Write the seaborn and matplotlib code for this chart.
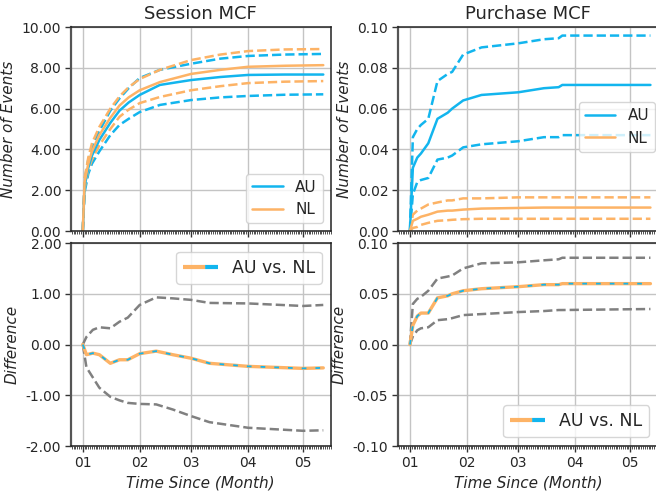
import numpy as np
import pandas as pd
import matplotlib
matplotlib.use("Agg")
import matplotlib.pyplot as plt
import matplotlib.dates as mdates
from matplotlib.lines import Line2D
import seaborn as sns

# ---------------- data ----------------
start_date = "2019-01-01"

# Session MCF
session_days = [0, 1, 3, 5, 9, 15, 20, 25, 31, 42, 59, 75, 90, 110, 131]
session_au_mean = [0, 2.2, 3.1, 3.7, 4.46, 5.3, 5.9, 6.3, 6.67, 7.16, 7.4, 7.55, 7.65, 7.67, 7.67]
session_au_upper = [0, 2.5, 3.5, 4.1, 4.9, 5.9, 6.5, 7.0, 7.5, 7.9, 8.2, 8.45, 8.58, 8.65, 8.68]
session_au_lower = [0, 1.9, 2.8, 3.3, 3.9, 4.7, 5.2, 5.5, 5.83, 6.18, 6.42, 6.55, 6.62, 6.68, 6.7]
session_nl_mean = [0, 2.4, 3.3, 3.9, 4.7, 5.55, 6.15, 6.55, 6.9, 7.3, 7.7, 7.9, 8.05, 8.1, 8.13]
session_nl_upper = [0, 2.6, 3.6, 4.3, 5.1, 6.0, 6.6, 7.05, 7.45, 7.9, 8.38, 8.65, 8.82, 8.9, 8.92]
session_nl_lower = [0, 2.1, 3.0, 3.5, 4.2, 5.0, 5.6, 5.95, 6.27, 6.57, 6.9, 7.1, 7.25, 7.32, 7.35]

# Session difference (AU vs. NL)
sdiff_days = [0, 2, 5.5, 9, 15, 20, 24.5, 31, 40, 49, 59, 69, 90, 120, 131]
sdiff_mean = [0, -0.2, -0.17, -0.2, -0.37, -0.3, -0.3, -0.18, -0.13, -0.2, -0.27, -0.37, -0.43, -0.47, -0.46]
sdiff_upper = [0, 0.15, 0.29, 0.34, 0.32, 0.45, 0.53, 0.78, 0.93, 0.91, 0.88, 0.82, 0.81, 0.76, 0.78]
sdiff_lower = [0, -0.45, -0.65, -0.85, -1.03, -1.1, -1.15, -1.17, -1.18, -1.28, -1.41, -1.53, -1.64, -1.7, -1.69]

# Purchase MCF
purchase_days = [0, 1.6, 4, 6, 10, 15, 20.6, 23, 29, 39, 59, 73, 81, 83, 131]
purchase_au_mean = [0, 0.031, 0.036, 0.038, 0.043, 0.055, 0.058, 0.060, 0.064, 0.0667, 0.068, 0.070, 0.0705, 0.0716, 0.0716]
purchase_au_upper = [0, 0.046, 0.050, 0.052, 0.055, 0.0735, 0.077, 0.078, 0.0865, 0.090, 0.092, 0.094, 0.0945, 0.0958, 0.0958]
purchase_au_lower = [0, 0.018, 0.024, 0.025, 0.026, 0.035, 0.036, 0.037, 0.041, 0.0425, 0.044, 0.046, 0.046, 0.047, 0.047]
purchase_nl_mean = [0, 0.005, 0.006, 0.007, 0.008, 0.0095, 0.010, 0.010, 0.0105, 0.011, 0.0113, 0.0115, 0.0115, 0.0115, 0.0115]
purchase_nl_upper = [0, 0.008, 0.010, 0.011, 0.013, 0.014, 0.015, 0.015, 0.016, 0.016, 0.0165, 0.0165, 0.0165, 0.0165, 0.0165]
purchase_nl_lower = [0, 0.0015, 0.002, 0.003, 0.004, 0.005, 0.0053, 0.0055, 0.0058, 0.006, 0.006, 0.006, 0.006, 0.006, 0.006]

# Purchase difference (AU vs. NL)
pdiff_mean = [0, 0.019, 0.028, 0.031, 0.031, 0.046, 0.048, 0.050, 0.053, 0.055, 0.057, 0.059, 0.059, 0.060, 0.060]
pdiff_upper = [0, 0.040, 0.045, 0.047, 0.053, 0.065, 0.067, 0.068, 0.075, 0.080, 0.081, 0.083, 0.084, 0.0855, 0.0855]
pdiff_lower = [0, 0.008, 0.014, 0.016, 0.017, 0.024, 0.025, 0.026, 0.029, 0.030, 0.032, 0.033, 0.034, 0.034, 0.035]

titles = ["Session MCF", "Purchase MCF"]
legend_labels = ["AU", "NL"]
diff_label = "AU vs. NL"

# ---------------- style ----------------
sns.set_theme(style="ticks")
plt.rcParams["font.family"] = ["DejaVu Sans"]

BLUE = "#12b5ee"
ORANGE = "#fdb366"
GRAY = "#808080"
LW = 1.8

t0 = pd.Timestamp(start_date)


def to_dates(days):
    return [t0 + pd.Timedelta(days=float(d)) for d in days]


fig = plt.figure(figsize=(6.56, 4.91), dpi=100)
W = 0.396
ax_s = fig.add_axes([0.108, 0.5295, W, 0.4155])
ax_sd = fig.add_axes([0.108, 0.0916, W, 0.4134])
ax_p = fig.add_axes([0.6067, 0.5295, W, 0.4155])
ax_pd = fig.add_axes([0.6067, 0.0916, W, 0.4134])


def draw_mcf(ax, days, au_m, au_u, au_l, nl_m, nl_u, nl_l):
    x = to_dates(days)
    for vals, col, ls in [(au_u, BLUE, "--"), (au_l, BLUE, "--"),
                          (nl_u, ORANGE, "--"), (nl_l, ORANGE, "--")]:
        sns.lineplot(x=x, y=vals, ax=ax, color=col, lw=LW, linestyle=ls)
    sns.lineplot(x=x, y=au_m, ax=ax, color=BLUE, lw=LW, label=legend_labels[0])
    sns.lineplot(x=x, y=nl_m, ax=ax, color=ORANGE, lw=LW, label=legend_labels[1])


def draw_diff(ax, days, m, u, l):
    x = to_dates(days)
    sns.lineplot(x=x, y=u, ax=ax, color=GRAY, lw=LW, linestyle="--")
    sns.lineplot(x=x, y=l, ax=ax, color=GRAY, lw=LW, linestyle="--")
    sns.lineplot(x=x, y=m, ax=ax, color=ORANGE, lw=2.4)
    sns.lineplot(x=x, y=m, ax=ax, color=BLUE, lw=1.3, dashes=False,
                 linestyle=(0, (2.6, 5.0)))


draw_mcf(ax_s, session_days, session_au_mean, session_au_upper, session_au_lower,
         session_nl_mean, session_nl_upper, session_nl_lower)
draw_mcf(ax_p, purchase_days, purchase_au_mean, purchase_au_upper, purchase_au_lower,
         purchase_nl_mean, purchase_nl_upper, purchase_nl_lower)
draw_diff(ax_sd, sdiff_days, sdiff_mean, sdiff_upper, sdiff_lower)
draw_diff(ax_pd, purchase_days, pdiff_mean, pdiff_upper, pdiff_lower)

xmin = t0 - pd.Timedelta(days=6.5)
xmax = t0 + pd.Timedelta(days=135)

for ax in [ax_s, ax_sd, ax_p, ax_pd]:
    ax.set_xlim(xmin, xmax)
    ax.xaxis.set_major_locator(mdates.MonthLocator())
    ax.xaxis.set_major_formatter(mdates.DateFormatter("%m"))
    ax.xaxis.set_minor_locator(mdates.DayLocator())
    ax.grid(True, which="major", color="#c4c4c4", lw=1.0)
    ax.set_axisbelow(True)
    ax.tick_params(axis="both", which="major", labelsize=10, length=4, width=1,
                   color="#333333", pad=3)
    ax.tick_params(axis="x", which="minor", length=2, width=0.6, color="#333333")
    for sp in ax.spines.values():
        sp.set_color("#222222")
        sp.set_linewidth(1.1)
    ax.spines["left"].set_linewidth(1.6)
    ax.spines["left"].set_color("#555555")

for ax in [ax_s, ax_p]:
    ax.tick_params(axis="x", labelbottom=False)
    ax.set_xlabel("")
    ax.set_ylabel("Number of Events", fontsize=11, style="italic")

for ax in [ax_sd, ax_pd]:
    ax.set_xlabel("Time Since (Month)", fontsize=11, style="italic")
    ax.set_ylabel("Difference", fontsize=11, style="italic")

ax_s.set_title(titles[0], fontsize=13)
ax_p.set_title(titles[1], fontsize=13)

ax_s.set_ylim(0, 10)
ax_s.set_yticks(np.arange(0, 10.01, 2))
ax_sd.set_ylim(-2, 2)
ax_sd.set_yticks(np.arange(-2, 2.01, 1))
ax_p.set_ylim(0, 0.1)
ax_p.set_yticks(np.arange(0, 0.1001, 0.02))
ax_pd.set_ylim(-0.1, 0.1)
ax_pd.set_yticks(np.arange(-0.1, 0.1001, 0.05))

fmt = matplotlib.ticker.FormatStrFormatter("%.2f")
for ax in [ax_s, ax_sd, ax_p, ax_pd]:
    ax.yaxis.set_major_formatter(fmt)

ax_s.legend(loc="lower right", fontsize=11, frameon=True, handlelength=2.0)
ax_p.legend(loc="center right", fontsize=11, frameon=True, handlelength=2.0,
            bbox_to_anchor=(1.02, 0.51))

proxy = Line2D([], [], color=ORANGE, lw=3, linestyle=(0, (5.3, 3.5)), gapcolor=BLUE)
ax_sd.legend([proxy], [diff_label], loc="upper right", fontsize=12.5, frameon=True,
             handlelength=2.0)
ax_pd.legend([proxy], [diff_label], loc="lower right", fontsize=12.5, frameon=True,
             handlelength=2.0)

fig.savefig("out.png", dpi=100)
